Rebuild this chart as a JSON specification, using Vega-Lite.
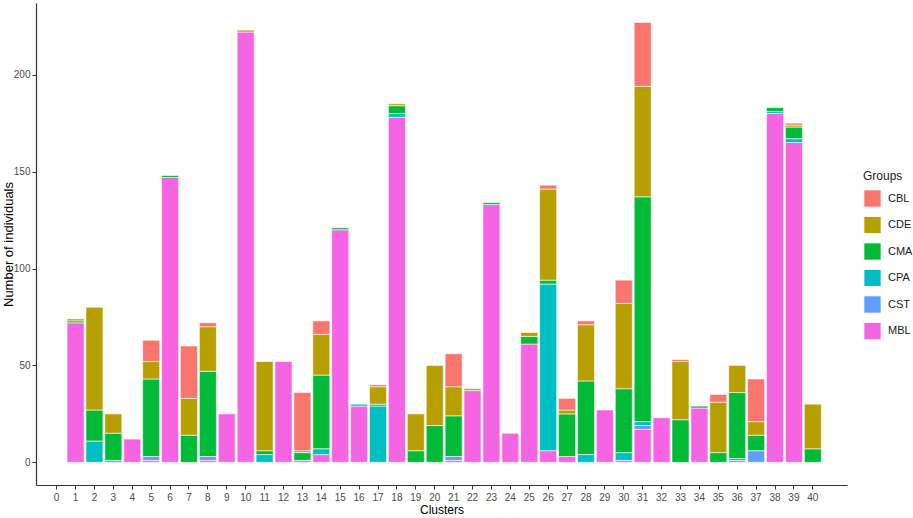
{
  "$schema": "https://vega.github.io/schema/vega-lite/v6.json",
  "autosize": {"type": "none"},
  "width": 811,
  "height": 482,
  "padding": {"left": 36, "top": 3, "right": 66, "bottom": 33},
  "background": "white",
  "config": {
    "font": "Liberation Sans",
    "view": {"stroke": null}
  },
  "data": {
    "values": [
      {"cluster": 1, "group": "MBL", "count": 72}, {"cluster": 1, "group": "CMA", "count": 1}, {"cluster": 1, "group": "CDE", "count": 1},
      {"cluster": 2, "group": "CPA", "count": 11}, {"cluster": 2, "group": "CMA", "count": 16}, {"cluster": 2, "group": "CDE", "count": 53},
      {"cluster": 3, "group": "CST", "count": 1}, {"cluster": 3, "group": "CMA", "count": 14}, {"cluster": 3, "group": "CDE", "count": 10},
      {"cluster": 4, "group": "MBL", "count": 12},
      {"cluster": 5, "group": "MBL", "count": 1}, {"cluster": 5, "group": "CST", "count": 2}, {"cluster": 5, "group": "CMA", "count": 40}, {"cluster": 5, "group": "CDE", "count": 9}, {"cluster": 5, "group": "CBL", "count": 11},
      {"cluster": 6, "group": "MBL", "count": 147}, {"cluster": 6, "group": "CMA", "count": 1},
      {"cluster": 7, "group": "CMA", "count": 14}, {"cluster": 7, "group": "CDE", "count": 19}, {"cluster": 7, "group": "CBL", "count": 27},
      {"cluster": 8, "group": "MBL", "count": 1}, {"cluster": 8, "group": "CST", "count": 2}, {"cluster": 8, "group": "CMA", "count": 44}, {"cluster": 8, "group": "CDE", "count": 23}, {"cluster": 8, "group": "CBL", "count": 2},
      {"cluster": 9, "group": "MBL", "count": 25},
      {"cluster": 10, "group": "MBL", "count": 222}, {"cluster": 10, "group": "CDE", "count": 1},
      {"cluster": 11, "group": "CPA", "count": 4}, {"cluster": 11, "group": "CMA", "count": 2}, {"cluster": 11, "group": "CDE", "count": 46},
      {"cluster": 12, "group": "MBL", "count": 52},
      {"cluster": 13, "group": "MBL", "count": 1}, {"cluster": 13, "group": "CMA", "count": 4}, {"cluster": 13, "group": "CDE", "count": 1}, {"cluster": 13, "group": "CBL", "count": 30},
      {"cluster": 14, "group": "MBL", "count": 4}, {"cluster": 14, "group": "CPA", "count": 3}, {"cluster": 14, "group": "CMA", "count": 38}, {"cluster": 14, "group": "CDE", "count": 21}, {"cluster": 14, "group": "CBL", "count": 7},
      {"cluster": 15, "group": "MBL", "count": 120}, {"cluster": 15, "group": "CMA", "count": 1},
      {"cluster": 16, "group": "MBL", "count": 29}, {"cluster": 16, "group": "CPA", "count": 1},
      {"cluster": 17, "group": "CPA", "count": 29}, {"cluster": 17, "group": "CMA", "count": 1}, {"cluster": 17, "group": "CDE", "count": 9}, {"cluster": 17, "group": "CBL", "count": 1},
      {"cluster": 18, "group": "MBL", "count": 178}, {"cluster": 18, "group": "CPA", "count": 2}, {"cluster": 18, "group": "CMA", "count": 4}, {"cluster": 18, "group": "CDE", "count": 1},
      {"cluster": 19, "group": "CMA", "count": 6}, {"cluster": 19, "group": "CDE", "count": 19},
      {"cluster": 20, "group": "CMA", "count": 19}, {"cluster": 20, "group": "CDE", "count": 31},
      {"cluster": 21, "group": "MBL", "count": 1}, {"cluster": 21, "group": "CST", "count": 2}, {"cluster": 21, "group": "CMA", "count": 21}, {"cluster": 21, "group": "CDE", "count": 15}, {"cluster": 21, "group": "CBL", "count": 17},
      {"cluster": 22, "group": "MBL", "count": 37}, {"cluster": 22, "group": "CDE", "count": 1},
      {"cluster": 23, "group": "MBL", "count": 133}, {"cluster": 23, "group": "CMA", "count": 1},
      {"cluster": 24, "group": "MBL", "count": 15},
      {"cluster": 25, "group": "MBL", "count": 61}, {"cluster": 25, "group": "CMA", "count": 4}, {"cluster": 25, "group": "CDE", "count": 2},
      {"cluster": 26, "group": "MBL", "count": 6}, {"cluster": 26, "group": "CPA", "count": 86}, {"cluster": 26, "group": "CMA", "count": 2}, {"cluster": 26, "group": "CDE", "count": 47}, {"cluster": 26, "group": "CBL", "count": 2},
      {"cluster": 27, "group": "MBL", "count": 3}, {"cluster": 27, "group": "CMA", "count": 22}, {"cluster": 27, "group": "CDE", "count": 2}, {"cluster": 27, "group": "CBL", "count": 6},
      {"cluster": 28, "group": "CPA", "count": 4}, {"cluster": 28, "group": "CMA", "count": 38}, {"cluster": 28, "group": "CDE", "count": 29}, {"cluster": 28, "group": "CBL", "count": 2},
      {"cluster": 29, "group": "MBL", "count": 27},
      {"cluster": 30, "group": "MBL", "count": 1}, {"cluster": 30, "group": "CPA", "count": 4}, {"cluster": 30, "group": "CMA", "count": 33}, {"cluster": 30, "group": "CDE", "count": 44}, {"cluster": 30, "group": "CBL", "count": 12},
      {"cluster": 31, "group": "MBL", "count": 17}, {"cluster": 31, "group": "CST", "count": 2}, {"cluster": 31, "group": "CPA", "count": 2}, {"cluster": 31, "group": "CMA", "count": 116}, {"cluster": 31, "group": "CDE", "count": 57}, {"cluster": 31, "group": "CBL", "count": 33},
      {"cluster": 32, "group": "MBL", "count": 23},
      {"cluster": 33, "group": "CMA", "count": 22}, {"cluster": 33, "group": "CDE", "count": 30}, {"cluster": 33, "group": "CBL", "count": 1},
      {"cluster": 34, "group": "MBL", "count": 28}, {"cluster": 34, "group": "CMA", "count": 1},
      {"cluster": 35, "group": "CMA", "count": 5}, {"cluster": 35, "group": "CDE", "count": 26}, {"cluster": 35, "group": "CBL", "count": 4},
      {"cluster": 36, "group": "MBL", "count": 1}, {"cluster": 36, "group": "CPA", "count": 1}, {"cluster": 36, "group": "CMA", "count": 34}, {"cluster": 36, "group": "CDE", "count": 14},
      {"cluster": 37, "group": "CST", "count": 6}, {"cluster": 37, "group": "CMA", "count": 8}, {"cluster": 37, "group": "CDE", "count": 7}, {"cluster": 37, "group": "CBL", "count": 22},
      {"cluster": 38, "group": "MBL", "count": 180}, {"cluster": 38, "group": "CPA", "count": 1}, {"cluster": 38, "group": "CMA", "count": 2},
      {"cluster": 39, "group": "MBL", "count": 165}, {"cluster": 39, "group": "CPA", "count": 2}, {"cluster": 39, "group": "CMA", "count": 6}, {"cluster": 39, "group": "CDE", "count": 1}, {"cluster": 39, "group": "CBL", "count": 1},
      {"cluster": 40, "group": "CMA", "count": 7}, {"cluster": 40, "group": "CDE", "count": 23}
    ]
  },
  "mark": {"type": "bar", "stroke": "white", "strokeWidth": 0.6},
  "encoding": {
    "x": {
      "field": "cluster",
      "type": "ordinal",
      "title": "Clusters",
      "scale": {
        "domain": [0, 1, 2, 3, 4, 5, 6, 7, 8, 9, 10, 11, 12, 13, 14, 15, 16, 17, 18, 19, 20, 21, 22, 23, 24, 25, 26, 27, 28, 29, 30, 31, 32, 33, 34, 35, 36, 37, 38, 39, 40],
        "paddingInner": 0.1,
        "paddingOuter": 1.5165,
        "align": 0.321
      },
      "axis": {
        "labelAngle": 0,
        "labelColor": "#4d4d4d",
        "labelFontSize": 10,
        "labelPadding": 3,
        "tickColor": "#333333",
        "tickSize": 4,
        "domainColor": "#333333",
        "domainWidth": 1.2,
        "titleFontSize": 12,
        "titleFontWeight": "normal",
        "titleColor": "black",
        "titlePadding": 2
      }
    },
    "y": {
      "field": "count",
      "type": "quantitative",
      "aggregate": "sum",
      "stack": "zero",
      "title": "Number of individuals",
      "scale": {"domain": [-11.7, 237], "nice": false, "zero": false},
      "axis": {
        "values": [0, 50, 100, 150, 200],
        "grid": false,
        "labelColor": "#4d4d4d",
        "labelFontSize": 10,
        "labelPadding": 2,
        "tickColor": "#333333",
        "tickSize": 4,
        "domainColor": "#333333",
        "domainWidth": 1.2,
        "titleFontSize": 13,
        "titleFontWeight": "normal",
        "titleColor": "black",
        "titleX": -28,
        "titleY": 241,
        "titleAngle": 270,
        "titleAlign": "center",
        "titleBaseline": "middle"
      }
    },
    "color": {
      "field": "group",
      "type": "nominal",
      "title": "Groups",
      "scale": {
        "domain": ["CBL", "CDE", "CMA", "CPA", "CST", "MBL"],
        "range": ["#F8766D", "#B79F00", "#00BA38", "#00BFC4", "#619CFF", "#F564E3"]
      },
      "legend": {
        "orient": "none",
        "legendX": 827,
        "legendY": 168,
        "symbolType": "square",
        "symbolSize": 300,
        "symbolStrokeColor": "white",
        "symbolStrokeWidth": 1,
        "symbolOpacity": 1,
        "rowPadding": 3.5,
        "labelFontSize": 11,
        "labelColor": "#222222",
        "labelOffset": 6,
        "titleFontSize": 12,
        "titleFontWeight": "normal",
        "titleColor": "#222222",
        "titlePadding": 6
      }
    },
    "order": {"field": "group", "sort": "descending"}
  }
}
